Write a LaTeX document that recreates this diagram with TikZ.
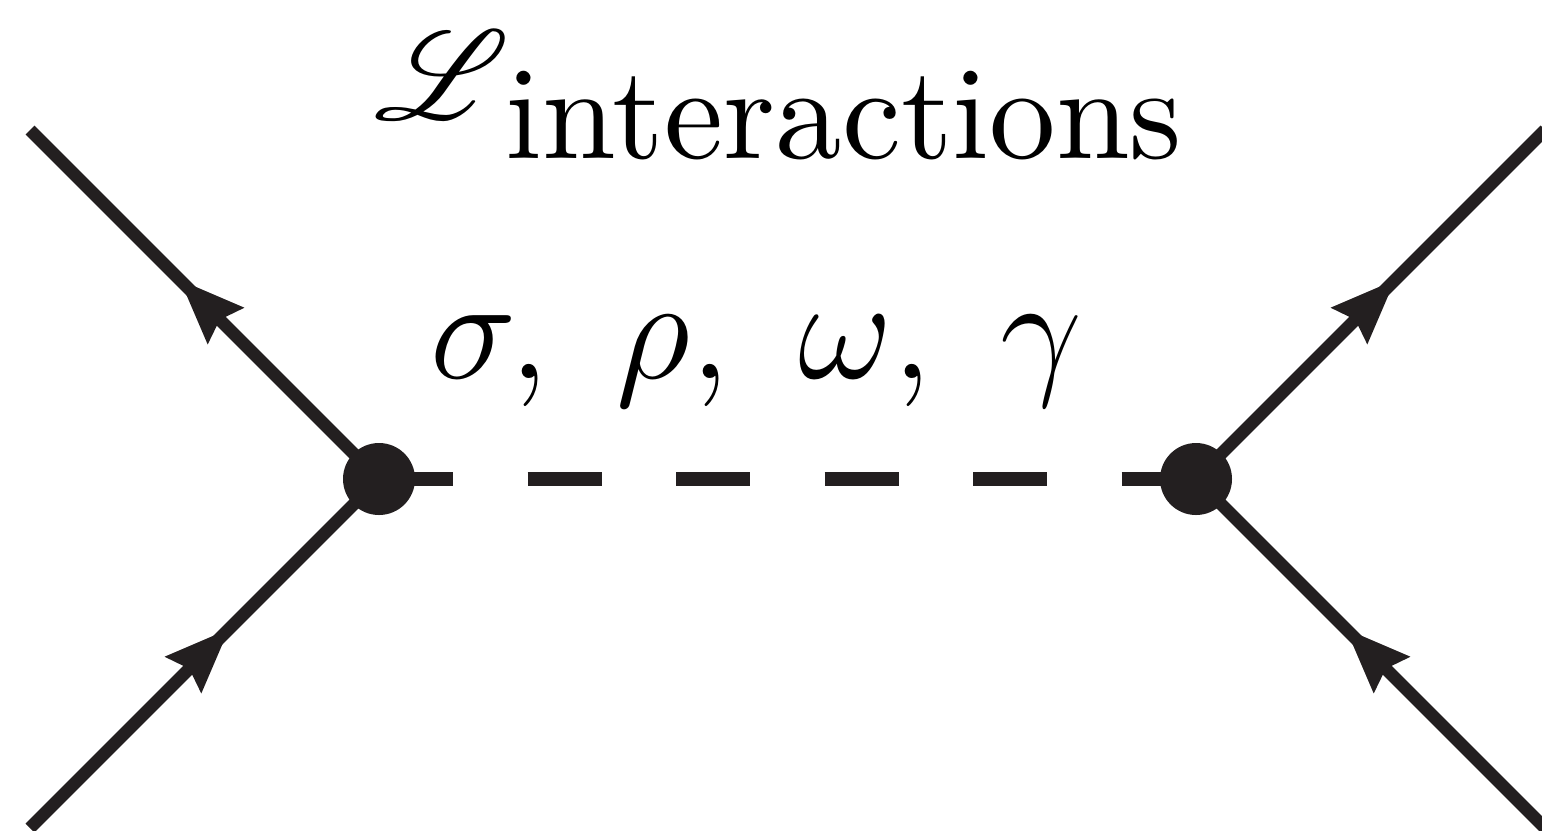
\RequirePackage{fix-cm}
\documentclass[tikz,border=0pt]{standalone}
\usepackage{fontspec}
\usepackage{mathrsfs}
\DeclareFontFamily{U}{rsfs}{\skewchar\font127 }
\DeclareFontShape{U}{rsfs}{m}{n}{<-> rsfs10}{}
\newfontfamily\lmten{lmroman10-regular}[Extension=.otf]
\usetikzlibrary{arrows.meta,decorations.markings}
\definecolor{ink}{HTML}{231F20}
\begin{document}
\begin{tikzpicture}[
  fermion/.style={line width=0.125cm, draw=ink, postaction={decorate},
    decoration={markings, mark=at position 0.572 with {\arrow[ink]{Stealth[length=0.65cm,width=0.52cm,inset=0.09cm,line width=0pt]}}}},
  boson/.style={line width=0.14cm, draw=ink, dash pattern=on 0.7427cm off 0.7427cm},
  vertexdot/.style={circle, fill=ink, minimum size=0.72cm, inner sep=0pt},
  txt/.style={inner sep=0pt, text=black}
]
\useasboundingbox (0,0) rectangle (15.42,8.30);
\coordinate (v1) at (3.79,3.51);
\coordinate (v2) at (11.96,3.51);
\coordinate (tl) at (0.30,7.00);
\coordinate (bl) at (0.30,0.02);
\coordinate (tr) at (15.45,7.00);
\coordinate (br) at (15.45,0.02);
\draw[boson] (v1) -- (v2);
\draw[fermion] (v1) -- (tl);
\draw[fermion] (bl) -- (v1);
\draw[fermion] (v2) -- (tr);
\draw[fermion] (br) -- (v2);
\node[vertexdot] (d1) at (v1) {};
\node[vertexdot] (d2) at (v2) {};
\node[txt, font=\fontsize{36}{40}\selectfont] (lag) at (4.42,7.55) {$\mathscr{L}$};
\node[txt, anchor=base west, font=\lmten\fontsize{37.8}{42}\selectfont] (title) at (5.05,6.72) {interactions};
\node[txt, anchor=base west, font=\fontsize{41.5}{45}\selectfont] (labels) at (4.30,4.52) {$\sigma,\ \rho,\ \omega,\ \gamma$};
\end{tikzpicture}
\end{document}
